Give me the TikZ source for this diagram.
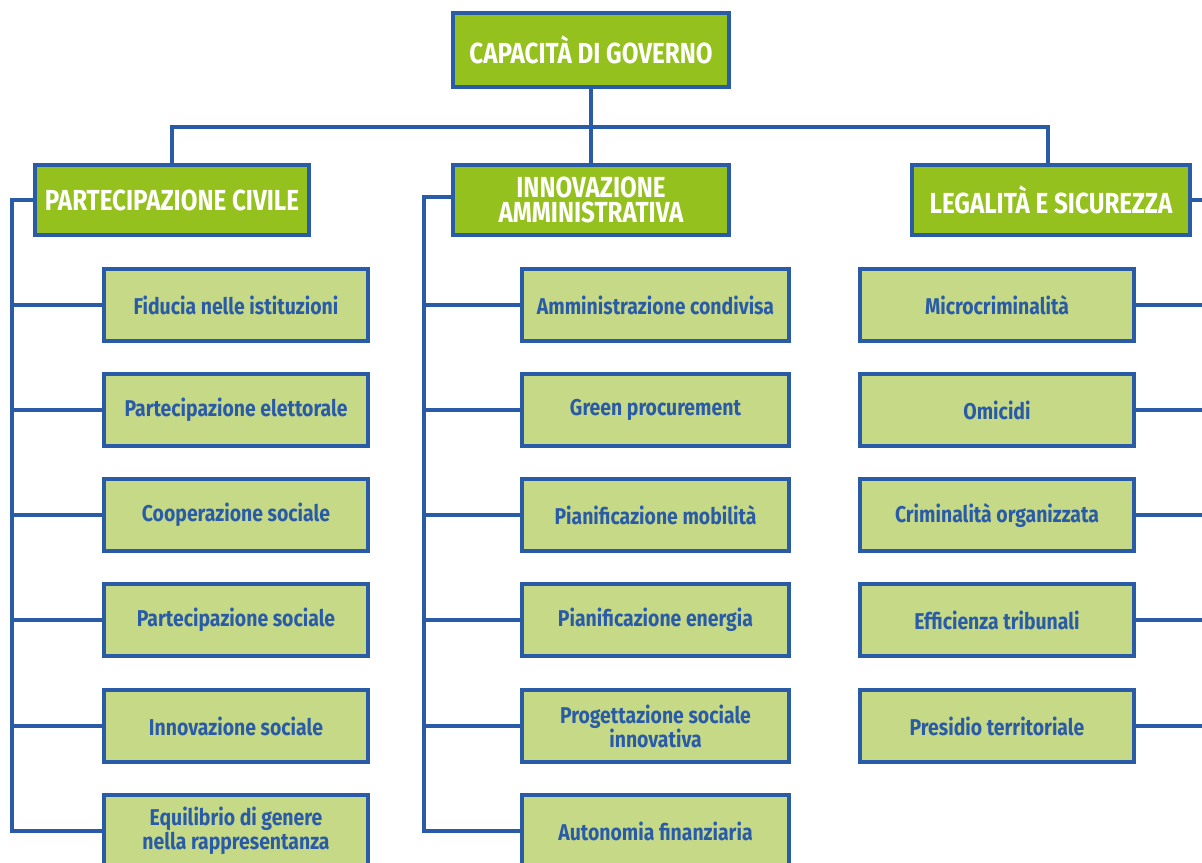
\documentclass[tikz,border=0pt]{standalone}
\usepackage{fontspec}
\setmainfont{Fira Sans}[FakeStretch=0.85]
\newfontfamily\topfont{Fira Sans}[FakeStretch=0.835]
\definecolor{dgreen}{HTML}{95C11F}
\definecolor{lgreen}{HTML}{C6D987}
\definecolor{dblue}{HTML}{2A5BA7}
\begin{document}
\begin{tikzpicture}[x=0.02cm,y=-0.02cm,
  conn/.style={draw=dblue,line width=2pt},
  topbox/.style={draw=dblue,line width=1.9pt,fill=dgreen,text=white,font=\topfont\fontsize{16.5}{13.8}\selectfont\bfseries,align=center,inner sep=0pt,minimum height=70*0.02cm},
  child/.style={draw=dblue,line width=1.9pt,fill=lgreen,text=dblue,font=\fontsize{13}{13.6}\selectfont\bfseries,align=center,inner sep=0pt,minimum height=72*0.02cm}]
\useasboundingbox (0,0) rectangle (1202,862);
\node[topbox,minimum width=276*0.02cm,minimum height=74*0.02cm] (top) at (591,50) {CAPACITÀ DI GOVERNO};
\node[topbox,minimum width=274*0.02cm] (p) at (172,200) {PARTECIPAZIONE CIVILE};
\node[topbox,minimum width=276*0.02cm] (i) at (591,200) {INNOVAZIONE\\AMMINISTRATIVA};
\node[topbox,minimum width=278*0.02cm] (l) at (1051,200) {LEGALITÀ E SICUREZZA};
% left column
\node[child,minimum width=264*0.02cm] (p1) at (236,305) {Fiducia nelle istituzioni};
\node[child,minimum width=264*0.02cm] (p2) at (236,410) {Partecipazione elettorale};
\node[child,minimum width=264*0.02cm] (p3) at (236,515) {Cooperazione sociale};
\node[child,minimum width=264*0.02cm] (p4) at (236,620) {Partecipazione sociale};
\node[child,minimum width=264*0.02cm] (p5) at (236,726) {Innovazione sociale};
\node[child,minimum width=264*0.02cm] (p6) at (236,831) {Equilibrio di genere\\nella rappresentanza};
% middle column
\node[child,minimum width=267*0.02cm] (i1) at (655.5,305) {Amministrazione condivisa};
\node[child,minimum width=267*0.02cm] (i2) at (655.5,410) {Green procurement};
\node[child,minimum width=267*0.02cm] (i3) at (655.5,515) {Pianificazione mobilità};
\node[child,minimum width=267*0.02cm] (i4) at (655.5,620) {Pianificazione energia};
\node[child,minimum width=267*0.02cm] (i5) at (655.5,726) {Progettazione sociale\\innovativa};
\node[child,minimum width=267*0.02cm] (i6) at (655.5,831) {Autonomia finanziaria};
% right column
\node[child,minimum width=274*0.02cm] (l1) at (997,305) {Microcriminalità};
\node[child,minimum width=274*0.02cm] (l2) at (997,410) {Omicidi};
\node[child,minimum width=274*0.02cm] (l3) at (997,515) {Criminalità organizzata};
\node[child,minimum width=274*0.02cm] (l4) at (997,620) {Efficienza tribunali};
\node[child,minimum width=274*0.02cm] (l5) at (997,726) {Presidio territoriale};
% bus
\coordinate (busL) at (172,127);
\coordinate (busR) at (1048,127);
\coordinate (spP) at (12,200);
\coordinate (spI) at (424,197);
\coordinate (spL) at (1203,200);
\draw[conn] (top.south) -- (top.south |- busL);
\draw[conn] (p.north) -- (busL) -- (busR) -- (busR |- l.north);
\draw[conn] (top.south |- busL) -- (i.north);
% left spine
\draw[conn] (p.west) -- (spP) -- (spP |- p6.west) -- (p6.west);
\foreach \n in {p1,p2,p3,p4,p5} \draw[conn] (spP |- \n.west) ++(-2,0) -- (\n.west);
% middle spine
\draw[conn] (i.west |- spI) -- (spI) -- (spI |- i6.west) -- (i6.west);
\foreach \n in {i1,i2,i3,i4,i5} \draw[conn] (spI |- \n.west) ++(-2,0) -- (\n.west);
% right spine
\draw[conn] (l.east) -- (spL);
\foreach \n in {l1,l2,l3,l4,l5} \draw[conn] (\n.east) -- (spL |- \n.east);
\end{tikzpicture}
\end{document}
